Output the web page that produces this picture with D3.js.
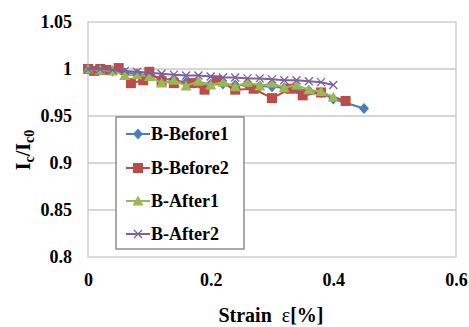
<!DOCTYPE html>
<html>
<head>
<meta charset="utf-8">
<script src="https://cdn.jsdelivr.net/npm/d3@7"></script>
<style>
  body { margin: 0; background: #fff; }
  text { font-family: "Liberation Serif", "Times New Roman", serif; font-weight: bold; fill: #000; }
</style>
</head>
<body>
<svg id="chart" width="469" height="327"></svg>
<script>
// series
var before1X = [0, 0.02, 0.04, 0.06, 0.08, 0.10, 0.12, 0.14, 0.16, 0.18, 0.20, 0.22, 0.24, 0.26, 0.28, 0.30, 0.32, 0.34, 0.36, 0.38, 0.40, 0.45];
var before1Y = [1.0, 0.999, 0.998, 0.996, 0.995, 0.993, 0.990, 0.988, 0.986, 0.985, 0.984, 0.984, 0.983, 0.983, 0.982, 0.981, 0.980, 0.979, 0.977, 0.975, 0.968, 0.958];

var before2X = [0, 0.01, 0.02, 0.03, 0.05, 0.07, 0.09, 0.10, 0.12, 0.14, 0.17, 0.19, 0.21, 0.24, 0.27, 0.30, 0.33, 0.35, 0.38, 0.42];
var before2Y = [1.0, 0.998, 1.0, 0.999, 1.001, 0.985, 0.988, 0.997, 0.987, 0.985, 0.985, 0.978, 0.988, 0.978, 0.979, 0.969, 0.979, 0.972, 0.975, 0.966];

var after1X = [0, 0.02, 0.04, 0.06, 0.08, 0.10, 0.12, 0.14, 0.16, 0.18, 0.20, 0.22, 0.24, 0.26, 0.28, 0.30, 0.32, 0.34, 0.36, 0.38, 0.40];
var after1Y = [1.0, 0.999, 0.998, 0.993, 0.994, 0.992, 0.985, 0.988, 0.982, 0.987, 0.983, 0.986, 0.981, 0.986, 0.982, 0.985, 0.980, 0.983, 0.978, 0.976, 0.970];

var after2X = [0, 0.02, 0.04, 0.06, 0.08, 0.10, 0.12, 0.14, 0.16, 0.18, 0.20, 0.22, 0.24, 0.26, 0.28, 0.30, 0.32, 0.34, 0.36, 0.38, 0.40];
var after2Y = [1.0, 1.0, 0.999, 0.998, 0.997, 0.996, 0.995, 0.994, 0.993, 0.993, 0.992, 0.991, 0.991, 0.990, 0.990, 0.989, 0.988, 0.988, 0.987, 0.986, 0.983];

var seriesNames = ["B-Before1", "B-Before2", "B-After1", "B-After2"];
var xTicks = [0, 0.2, 0.4, 0.6];
var yTicks = [0.8, 0.85, 0.9, 0.95, 1, 1.05];

var svg = d3.select('#chart');
var padL = 88, padR = 456, padT = 22, padB = 257;

var xScale = d3.scaleLinear().domain([0, 0.6]).range([padL, padR]);
var yScale = d3.scaleLinear().domain([0.8, 1.05]).range([padB, padT]);

// plot frame + gridlines
svg.append('rect')
    .attr('x', padL).attr('y', padT)
    .attr('width', padR - padL).attr('height', padB - padT)
    .attr('fill', 'none').attr('stroke', '#d0d0d0').attr('stroke-width', 1.5);

svg.append('g')
    .selectAll('line')
    .data(yTicks.slice(1, -1))
    .enter().append('line')
    .attr('x1', padL).attr('x2', padR)
    .attr('y1', function (d) { return yScale(d); })
    .attr('y2', function (d) { return yScale(d); })
    .attr('stroke', '#c8c8c8').attr('stroke-width', 1.5);

// axes, only labels
var yAxis = svg.append('g')
    .attr('transform', 'translate(' + padL + ',0)')
    .call(d3.axisLeft(yScale).tickValues(yTicks).tickSize(0).tickPadding(16)
        .tickFormat(function (d) { return d3.format('')(d); }));
var xAxis = svg.append('g')
    .attr('transform', 'translate(0,' + padB + ')')
    .call(d3.axisBottom(xScale).tickValues(xTicks).tickSize(0).tickPadding(16)
        .tickFormat(function (d) { return d3.format('')(d); }));
[xAxis, yAxis].forEach(function (a) {
    a.select('.domain').remove();
    a.selectAll('text')
        .style('font-family', '"Liberation Serif", serif')
        .style('font-weight', 'bold')
        .style('font-size', '18px');
});

var series = [
    { name: seriesNames[0], xs: before1X, ys: before1Y, color: '#4a7ebb', marker: 'diamond' },
    { name: seriesNames[1], xs: before2X, ys: before2Y, color: '#be4b48', marker: 'square' },
    { name: seriesNames[2], xs: after1X, ys: after1Y, color: '#98b954', marker: 'triangle' },
    { name: seriesNames[3], xs: after2X, ys: after2Y, color: '#7d60a0', marker: 'x' }
];

function drawMarker(g, type, color) {
    if (type === 'diamond') {
        g.append('path').attr('d', 'M0,-5.5L5,0L0,5.5L-5,0Z').attr('fill', color);
    } else if (type === 'square') {
        g.append('rect').attr('x', -5).attr('y', -5).attr('width', 10).attr('height', 10).attr('fill', color);
    } else if (type === 'triangle') {
        g.append('path').attr('d', 'M0,-5.5L5.5,4.5L-5.5,4.5Z').attr('fill', color);
    } else {
        g.append('path').attr('d', 'M-4,-4L4,4M-4,4L4,-4').attr('stroke', color).attr('stroke-width', 1.3).attr('fill', 'none');
    }
}

var line = d3.line()
    .x(function (d) { return xScale(d[0]); })
    .y(function (d) { return yScale(d[1]); });

series.forEach(function (s) {
    var pts = s.xs.map(function (x, i) { return [x, s.ys[i]]; });
    svg.append('path')
        .datum(pts)
        .attr('d', line)
        .attr('fill', 'none')
        .attr('stroke', s.color)
        .attr('stroke-width', 2);
    pts.forEach(function (p) {
        var g = svg.append('g').attr('transform', 'translate(' + xScale(p[0]) + ',' + yScale(p[1]) + ')');
        drawMarker(g, s.marker, s.color);
    });
});

// legend
var legend = svg.append('g');
legend.append('rect')
    .attr('x', 116).attr('y', 117).attr('width', 128).attr('height', 132)
    .attr('fill', '#fff').attr('stroke', '#8c8c8c').attr('stroke-width', 1.5);
var legendY = [134, 168, 201, 234];
series.forEach(function (s, i) {
    var y = legendY[i];
    legend.append('line')
        .attr('x1', 126).attr('x2', 150).attr('y1', y).attr('y2', y)
        .attr('stroke', s.color).attr('stroke-width', 2);
    var g = legend.append('g').attr('transform', 'translate(138,' + y + ')');
    drawMarker(g, s.marker, s.color);
    legend.append('text')
        .attr('x', 151).attr('y', y + 6)
        .style('font-size', '18px')
        .text(s.name);
});

// axis titles
var xt = svg.append('text')
    .attr('x', 271).attr('y', 322)
    .attr('text-anchor', 'middle')
    .style('font-size', '20px');
xt.append('tspan').text('Strain\u00a0\u00a0');
xt.append('tspan').style('font-weight', 'normal').text('\u03b5');
xt.append('tspan').text('[%]');

var yt = svg.append('text')
    .attr('transform', 'translate(30,150) rotate(-90)')
    .attr('text-anchor', 'middle')
    .style('font-size', '20px');
yt.append('tspan').text('I');
yt.append('tspan').attr('dy', 4).style('font-size', '14px').text('c');
yt.append('tspan').attr('dy', -4).text('/I');
yt.append('tspan').attr('dy', 4).style('font-size', '14px').text('c0');
</script>
</body>
</html>
